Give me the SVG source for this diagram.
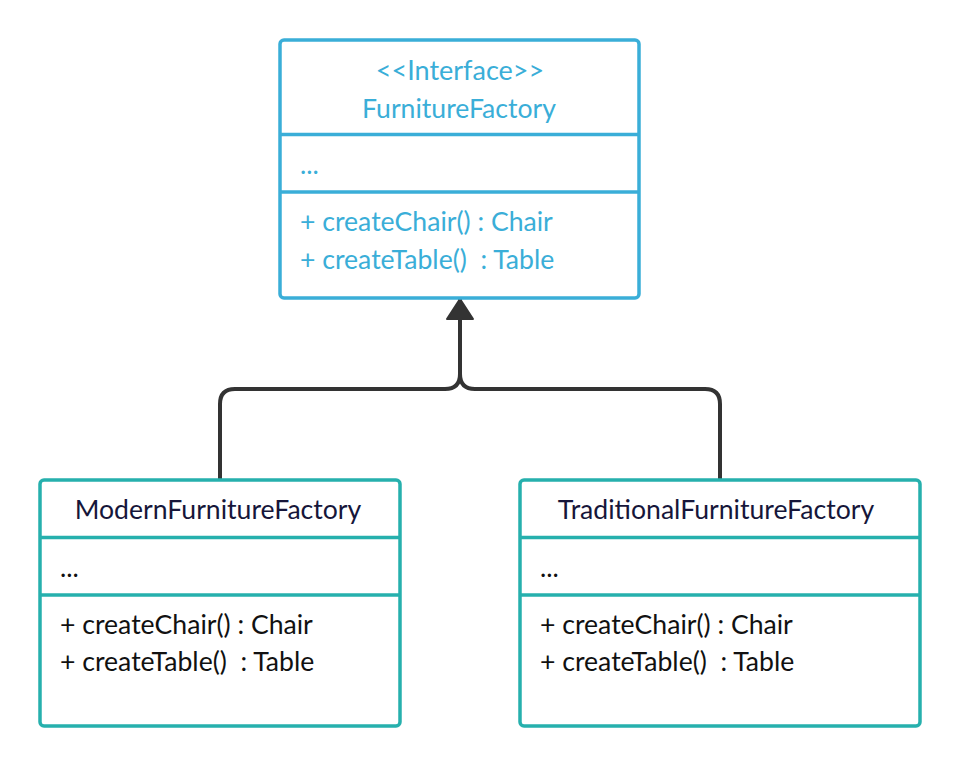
<svg xmlns="http://www.w3.org/2000/svg" width="960" height="767" viewBox="0 0 960 767">
<style>
.box{fill:#fff;stroke-width:3.5}
.blue{stroke:#3aaed8}
.teal{stroke:#26b0ad}
.div{stroke-width:3.5}
text{font-family:Lato,"Open Sans","Liberation Sans",sans-serif;font-size:26.6px}
.bt{fill:#3aaed8}
.dt{fill:#111}
.tt{fill:#16163a}
.conn{fill:none;stroke:#333;stroke-width:4;stroke-linejoin:round}
</style>
<defs>
<marker id="tri" markerUnits="userSpaceOnUse" markerWidth="24" markerHeight="30" refX="22" refY="15" orient="auto" viewBox="0 0 24 30">
<path d="M2,2 L22,15 L2,28 Z" fill="#333" stroke="#333" stroke-width="2" stroke-linejoin="round"/>
</marker>
</defs>
<g id="connectors">
<path class="conn" d="M220,480 V404 Q220,389 235,389 H445 Q460,389 460,374 V299" marker-end="url(#tri)"/>
<path class="conn" d="M720,480 V404 Q720,389 705,389 H475 Q460,389 460,374"/>
</g>
<g id="FurnitureFactory">
<rect class="box blue" x="280" y="40" width="359" height="258" rx="4"/>
<line class="div blue" x1="280" y1="134.5" x2="639" y2="134.5"/>
<line class="div blue" x1="280" y1="192" x2="639" y2="192"/>
<text class="bt" x="460" y="80" text-anchor="middle" style="font-size:27px">&lt;&lt;Interface&gt;&gt;</text>
<text class="bt" x="459" y="118" text-anchor="middle">FurnitureFactory</text>
<text class="bt" x="300" y="174">...</text>
<text class="bt" x="300" y="231" xml:space="preserve">+ createChair() : Chair</text>
<text class="bt" x="300" y="269" xml:space="preserve">+ createTable()  : Table</text>
</g>
<g id="ModernFurnitureFactory">
<rect class="box teal" x="40" y="480" width="360" height="246" rx="4"/>
<line class="div teal" x1="40" y1="537.5" x2="400" y2="537.5"/>
<line class="div teal" x1="40" y1="595" x2="400" y2="595"/>
<text class="tt" x="218" y="519" text-anchor="middle">ModernFurnitureFactory</text>
<text class="dt" x="60" y="577">...</text>
<text class="dt" x="60" y="634" xml:space="preserve">+ createChair() : Chair</text>
<text class="dt" x="60" y="671" xml:space="preserve">+ createTable()  : Table</text>
</g>
<g id="TraditionalFurnitureFactory">
<rect class="box teal" x="520" y="480" width="400" height="246" rx="4"/>
<line class="div teal" x1="520" y1="537.5" x2="920" y2="537.5"/>
<line class="div teal" x1="520" y1="595" x2="920" y2="595"/>
<text class="tt" x="716" y="519" text-anchor="middle">TraditionalFurnitureFactory</text>
<text class="dt" x="540" y="577">...</text>
<text class="dt" x="540" y="634" xml:space="preserve">+ createChair() : Chair</text>
<text class="dt" x="540" y="671" xml:space="preserve">+ createTable()  : Table</text>
</g>
</svg>
